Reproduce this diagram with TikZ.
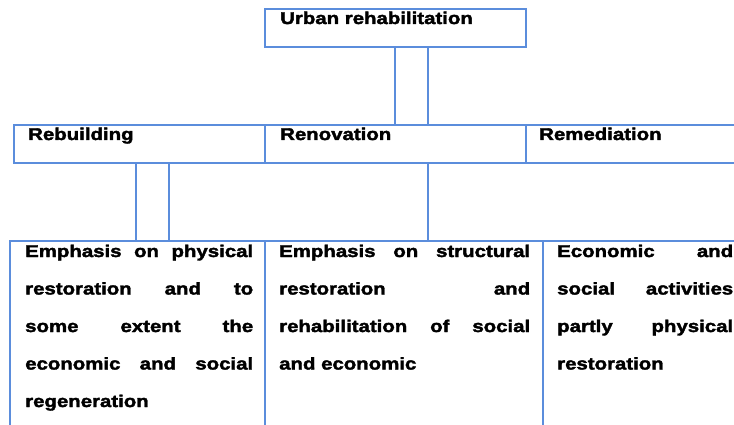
\documentclass[tikz,border=0pt]{standalone}
\usepackage{fontspec}
\setmainfont{Liberation Sans}[FakeStretch=1.2, BoldFeatures={FakeBold=2.2}]
\definecolor{boxblue}{RGB}{91,141,220}
\newcommand{\jl}[2]{\makebox[#1][s]{#2}}
\tikzset{
  box/.style={draw=boxblue, line width=1.3pt, inner sep=0pt, outer sep=0pt, anchor=north west},
  lbl/.style={anchor=base west, inner sep=0pt, font=\fontsize{17}{17}\selectfont\bfseries},
  para/.style={anchor=base west, inner sep=0pt, font=\fontsize{17}{37.5}\selectfont\bfseries},
  conn/.style={draw=boxblue, line width=1.3pt},
  thickconn/.style={draw=boxblue, line width=2.6pt}
}
\begin{document}
\begin{tikzpicture}[x=1pt,y=-1pt]
\useasboundingbox (0,0) rectangle (734,425);
\clip (0,0) rectangle (734,425);
% top
\node[box, minimum width=261pt, minimum height=38pt] (urban) at (265,9) {};
\node[lbl] (urbanT) at (280,24) {Urban rehabilitation};
% middle row
\node[box, minimum width=251pt, minimum height=38pt] (rebuild) at (14,125) {};
\node[box, minimum width=261pt, minimum height=38pt] (renov) at (265,125) {};
\node[box, minimum width=220pt, minimum height=38pt] (remed) at (526,125) {};
\node[lbl] (rebuildT) at (28,140) {Rebuilding};
\node[lbl] (renovT) at (280,140) {Renovation};
\node[lbl] (remedT) at (539,140) {Remediation};
% bottom row
\node[box, minimum width=255pt, minimum height=200pt] (b1) at (10,241) {};
\node[box, minimum width=278pt, minimum height=200pt] (b2) at (265,241) {};
\node[box, minimum width=200pt, minimum height=200pt] (b3) at (543,241) {};
\node[para] (b1T) at (25,257) {\parbox[t]{228pt}{%
\jl{228pt}{Emphasis on physical}\\
\jl{228pt}{restoration and to}\\
\jl{228pt}{some extent the}\\
\jl{228pt}{economic and social}\\
regeneration}};
\node[para] (b2T) at (279,257) {\parbox[t]{251pt}{%
\jl{251pt}{Emphasis on structural}\\
\jl{251pt}{restoration and}\\
\jl{251pt}{rehabilitation of social}\\
and economic}};
\node[para] (b3T) at (557,257) {\parbox[t]{176pt}{%
\jl{176pt}{Economic and}\\
\jl{176pt}{social activities}\\
\jl{176pt}{partly physical}\\
restoration}};
% connectors
\draw[thickconn] (395,0 |- urban.south) -- (395,0 |- renov.north);
\draw[conn] (428,0 |- urban.south) -- (428,0 |- renov.north);
\draw[conn] (136,0 |- rebuild.south) -- (136,0 |- b1.north);
\draw[conn] (169,0 |- rebuild.south) -- (169,0 |- b1.north);
\draw[conn] (428,0 |- renov.south) -- (428,0 |- b2.north);
\end{tikzpicture}
\end{document}
